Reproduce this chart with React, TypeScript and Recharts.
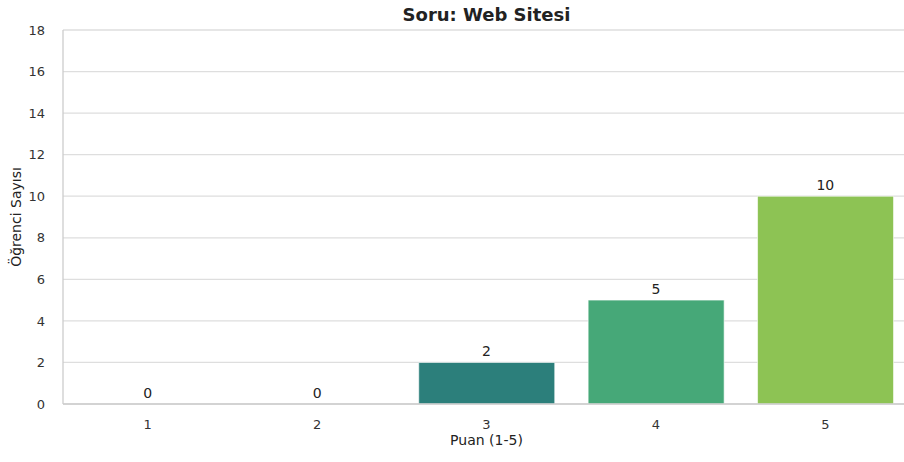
import { ComposedChart, Bar, Line, XAxis, YAxis, CartesianGrid, Cell, LabelList } from 'recharts'

const categories = ['1', '2', '3', '4', '5']
const counts = [0, 0, 2, 5, 10]
const barColors = ['#46327e', '#365c8d', '#2c7f7b', '#46a878', '#8dc354']
const yTicks = [0, 2, 4, 6, 8, 10, 12, 14, 16, 18]

const data = categories.map((c, i) => ({ puan: c, sayi: counts[i] }))

const font = '"DejaVu Sans", sans-serif'

export default function App() {
  return (
    <div style={{ position: 'absolute', left: 0, top: 0, width: 904, height: 462, overflow: 'hidden', background: '#fff', fontFamily: font }}>
      <div
        style={{
          position: 'absolute',
          left: 63,
          width: 847,
          top: 4,
          textAlign: 'center',
          fontWeight: 'bold',
          fontSize: 18,
          color: '#222',
        }}
      >
        Soru: Web Sitesi
      </div>
      <ComposedChart
        width={910}
        height={462}
        data={data}
        margin={{ top: 30, right: 0, left: 0, bottom: 0 }}
        barCategoryGap="10%"
      >
        <CartesianGrid vertical={false} stroke="#dedede" strokeWidth={1.3} />
        <XAxis
          dataKey="puan"
          height={58}
          axisLine={{ stroke: '#cccccc', strokeWidth: 1.3 }}
          tickLine={false}
          tick={{ fill: '#333', fontSize: 13, fontFamily: font }}
          tickMargin={10}
          label={{ value: 'Puan (1-5)', position: 'insideTop', offset: 31, fill: '#222', fontSize: 14, fontFamily: font }}
        />
        <YAxis
          domain={[0, 18]}
          ticks={yTicks}
          width={63}
          axisLine={{ stroke: '#cccccc', strokeWidth: 1.3 }}
          tickLine={false}
          tick={{ fill: '#333', fontSize: 13, fontFamily: font }}
          tickMargin={12}
          label={{ value: 'Öğrenci Sayısı', angle: -90, position: 'insideLeft', offset: 16, fill: '#222', fontSize: 14, fontFamily: font, style: { textAnchor: 'middle' } }}
        />
        <Bar dataKey="sayi" isAnimationActive={false} stroke="#ffffff" strokeWidth={0.6}>
          {data.map((d, i) => (
            <Cell key={d.puan} fill={barColors[i]} />
          ))}
        </Bar>
        <Line dataKey="sayi" stroke="none" dot={false} activeDot={false} isAnimationActive={false}>
          <LabelList dataKey="sayi" position="top" offset={6} fill="#222" fontSize={14} fontFamily={font} />
        </Line>
      </ComposedChart>
    </div>
  )
}
